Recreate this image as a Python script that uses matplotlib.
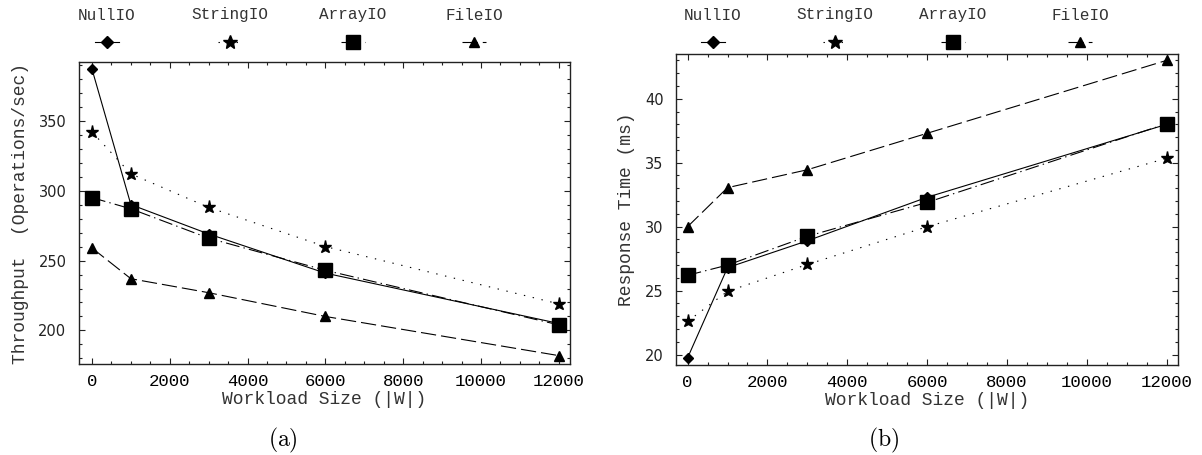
import matplotlib
matplotlib.use('Agg')
import matplotlib.pyplot as plt
from matplotlib.lines import Line2D
from matplotlib.ticker import MultipleLocator

plt.rcParams['mathtext.fontset'] = 'cm'
plt.rcParams['lines.scale_dashes'] = False

MONO = 'Liberation Mono'
SANS = 'DejaVu Sans'

# workload sizes (|W|)
workload = [0, 1000, 3000, 6000, 12000]

series_names = ['NullIO', 'StringIO', 'ArrayIO', 'FileIO']

# (a) throughput, operations/sec
thr_null = [387, 290, 269, 241, 205]
thr_string = [342, 312, 288, 260, 219]
thr_array = [295, 287, 266, 243, 204]
thr_file = [259, 237, 227, 210, 182]

# (b) response time, ms
rt_null = [19.75, 26.8, 28.9, 32.3, 38.0]
rt_string = [22.6, 24.95, 27.05, 30.0, 35.35]
rt_array = [26.2, 27.0, 29.25, 31.9, 38.05]
rt_file = [30.0, 33.05, 34.45, 37.3, 43.0]

# line / marker style per series
styles = {
    'NullIO': dict(linestyle='-', marker='D', markersize=5.5),
    'StringIO': dict(linestyle=(0, (1, 5.5)), marker='*', markersize=9.5),
    'ArrayIO': dict(linestyle=(0, (10, 3, 1, 3)), marker='s', markersize=9.5),
    'FileIO': dict(linestyle=(0, (11, 3.6)), marker='^', markersize=7.5),
}

fig = plt.figure(figsize=(12.02, 4.55), dpi=100)
ax1 = fig.add_axes([0.0657, 0.200, 0.4085, 0.6637])
ax2 = fig.add_axes([0.5624, 0.198, 0.4176, 0.6835])


def draw_panel(ax, values, ylim, xlim, ymajor, yminor, ylabel):
    for name, vals in zip(series_names, values):
        ax.plot(workload, vals, color='black', linewidth=0.8,
                markerfacecolor='black', markeredgecolor='black',
                clip_on=False, **styles[name])
    ax.set_xlim(*xlim)
    ax.set_ylim(*ylim)
    ax.xaxis.set_major_locator(MultipleLocator(2000))
    ax.xaxis.set_minor_locator(MultipleLocator(500))
    ax.yaxis.set_major_locator(MultipleLocator(ymajor))
    ax.yaxis.set_minor_locator(MultipleLocator(yminor))
    ax.tick_params(which='both', direction='in', top=True, right=True,
                   width=0.8, color='#222222')
    ax.tick_params(which='major', length=4)
    ax.tick_params(which='minor', length=2.5)
    ax.tick_params(axis='x', pad=7)
    ax.tick_params(axis='y', pad=9)
    for lab in ax.get_xticklabels():
        lab.set_fontfamily(MONO)
        lab.set_fontsize(12.5)
    for lab in ax.get_yticklabels():
        lab.set_fontfamily(SANS)
        lab.set_fontsize(10.5)
        lab.set_color('#222222')
    for sp in ax.spines.values():
        sp.set_linewidth(1.0)
        sp.set_color('#222222')
    ax.set_xlabel('Workload Size (|W|)', fontfamily=MONO, fontsize=13,
                  labelpad=2, color='#333333')
    ax.set_ylabel(ylabel, fontfamily=MONO, fontsize=13, labelpad=7,
                  color='#333333')


draw_panel(ax1, [thr_null, thr_string, thr_array, thr_file],
           (176, 392), (-334, 12288), 50, 10, 'Throughput  (Operations/sec)')
draw_panel(ax2, [rt_null, rt_string, rt_array, rt_file],
           (19.2, 43.5), (-290, 12280), 5, 1, 'Response Time (ms)')

# legend row above each panel: name on top, sample below
W, H = 1202.0, 455.0
legend_x = {
    'left': [107, 230, 353, 474],
    'right': [713, 835, 953, 1080],
}
for side in ('left', 'right'):
    for name, xc in zip(series_names, legend_x[side]):
        fig.text(xc / W, 1 - 15 / H, name, fontfamily=MONO, fontsize=11.5,
                 ha='center', va='center', color='#333333')
        xs = [(xc - 12) / W, xc / W, (xc + 12) / W]
        ys = [1 - 42 / H] * 3
        st = dict(styles[name])
        st['markersize'] = st['markersize'] * 1.05
        fig.add_artist(Line2D(xs, ys, transform=fig.transFigure,
                              color='black', linewidth=0.8, markevery=[1],
                              markerfacecolor='black', **st))

fig.text(283 / W, 1 - 440 / H, r'$\mathrm{(a)}$', fontsize=17,
         ha='center', va='center')
fig.text(884 / W, 1 - 440 / H, r'$\mathrm{(b)}$', fontsize=17,
         ha='center', va='center')

fig.savefig('out.png', dpi=100)
